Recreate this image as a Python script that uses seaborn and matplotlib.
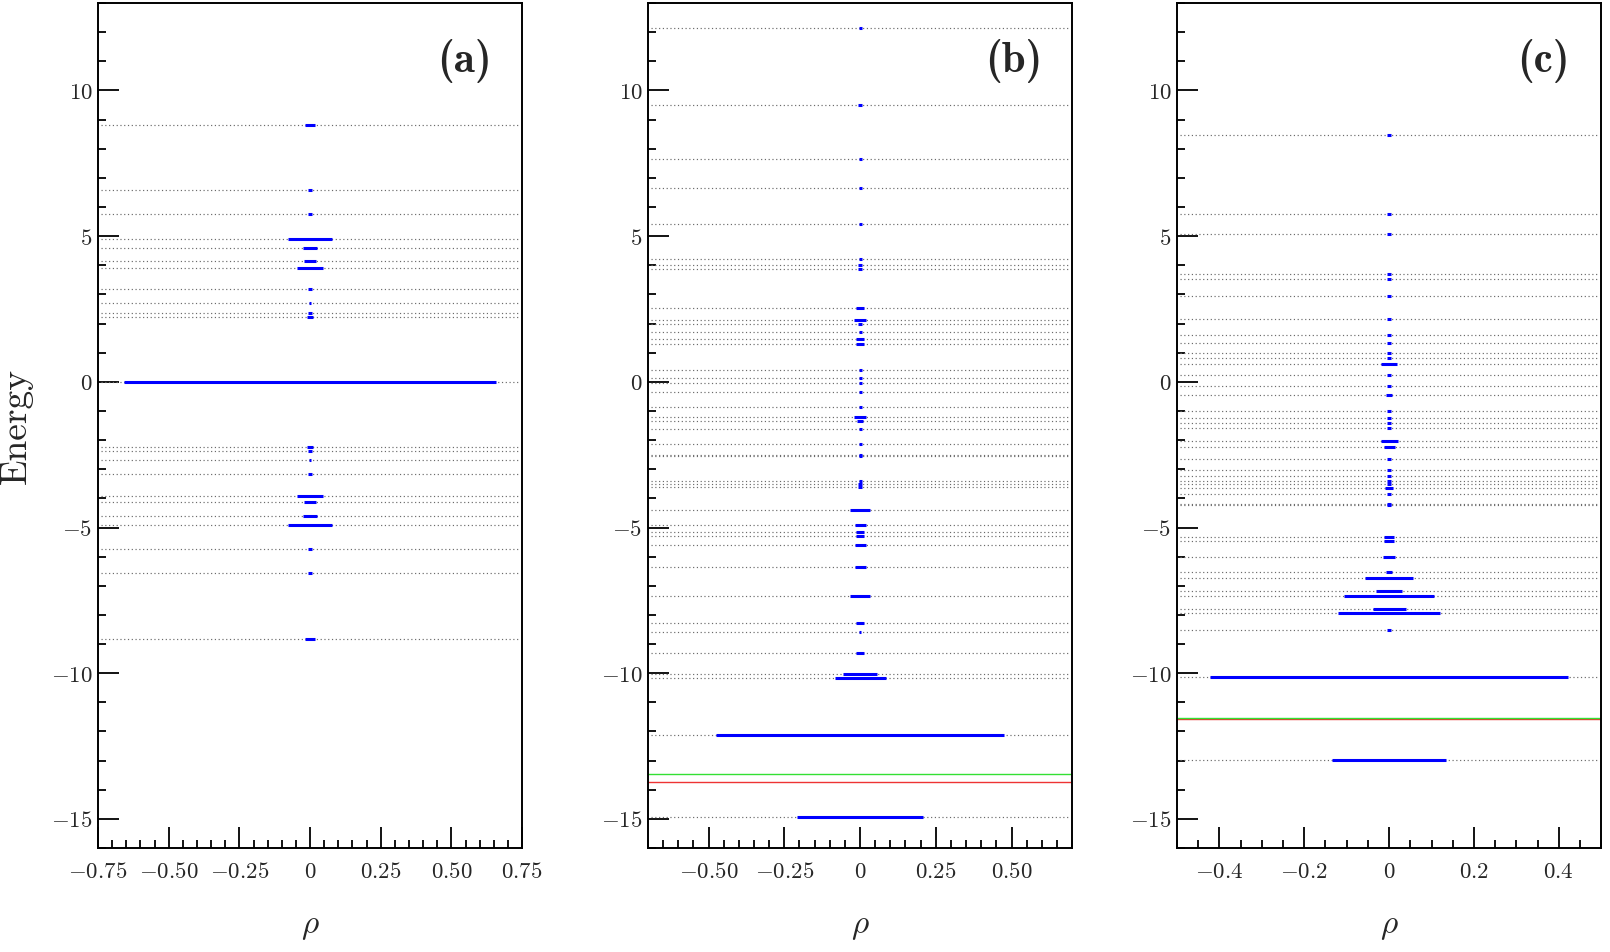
import os
import numpy as np
import matplotlib
matplotlib.use("Agg")
import matplotlib.pyplot as plt
import seaborn as sns
from matplotlib.ticker import MultipleLocator, FuncFormatter
from matplotlib.font_manager import FontProperties

# ---------------- data ----------------
# panel (a): energies and half-widths (rho)
energy_a = [8.82, 6.57, 5.75, 4.90, 4.59, 4.14, 3.92, 3.18, 2.69, 2.37, 2.23,
            0.0,
            -2.23, -2.37, -2.69, -3.18, -3.92, -4.14, -4.59, -4.90, -5.75, -6.57, -8.82]
rho_a = [0.018, 0.006, 0.006, 0.078, 0.026, 0.021, 0.045, 0.006, 0.004, 0.006, 0.010,
         0.657,
         0.010, 0.006, 0.004, 0.006, 0.045, 0.021, 0.026, 0.078, 0.006, 0.006, 0.018]

# panel (b)
energy_b = [12.16, 9.49, 7.66, 6.66, 5.40, 4.23, 4.01, 3.86,
            2.53, 2.12, 2.00, 1.71, 1.48, 1.30, 0.41, 0.14, -0.04, -0.34,
            -0.88, -1.21, -1.35, -1.62, -2.15, -2.51, -2.56, -3.41, -3.49, -3.62,
            -4.40, -4.91, -5.14, -5.30, -5.61, -6.37,
            -7.36, -8.26, -8.60, -9.32, -10.04, -10.15, -12.12, -14.93]
rho_b = [0.005, 0.007, 0.005, 0.005, 0.005, 0.005, 0.006, 0.006,
         0.012, 0.020, 0.008, 0.005, 0.013, 0.013, 0.005, 0.005, 0.005, 0.005,
         0.005, 0.020, 0.010, 0.005, 0.005, 0.005, 0.005, 0.005, 0.007, 0.007,
         0.034, 0.018, 0.014, 0.014, 0.018, 0.018,
         0.034, 0.012, 0.004, 0.012, 0.056, 0.084, 0.475, 0.207]
lines_b = {"green": -13.46, "red": -13.72}

# panel (c)
energy_c = [8.47, 5.77, 5.08, 3.70, 3.53, 2.96, 2.14, 1.61, 1.33, 0.98, 0.81, 0.60,
            0.23, -0.14, -0.44, -1.00, -1.25, -1.42, -1.57, -2.03, -2.23, -2.64,
            -3.01, -3.24, -3.41, -3.50, -3.64, -3.86, -4.18, -4.23,
            -5.31, -5.45, -6.01, -6.52, -6.74, -7.18, -7.35, -7.78, -7.92, -8.52,
            -10.12, -12.98]
rho_c = [0.004, 0.004, 0.004, 0.004, 0.004, 0.004, 0.004, 0.004, 0.004, 0.004, 0.004, 0.018,
         0.004, 0.004, 0.007, 0.004, 0.004, 0.004, 0.004, 0.020, 0.013, 0.004,
         0.004, 0.004, 0.004, 0.004, 0.009, 0.005, 0.004, 0.004,
         0.012, 0.012, 0.014, 0.007, 0.056, 0.031, 0.107, 0.039, 0.120, 0.004,
         0.423, 0.135]
lines_c = {"red": -11.56, "green": -11.54}

panel_labels = ["(a)", "(b)", "(c)"]
xlims = [0.75, 0.70, 0.50]
x_major = [0.25, 0.25, 0.2]
x_decimals = [2, 2, 1]

# ---------------- style ----------------
sns.set_theme(style="white")
plt.rcParams["font.family"] = ["DejaVu Serif"]
plt.rcParams["mathtext.fontset"] = "cm"

ttf_dir = os.path.join(matplotlib.get_data_path(), "fonts", "ttf")
fp_bold = FontProperties(fname=os.path.join(ttf_dir, "cmb10.ttf"), size=31)
fp_rom = FontProperties(fname=os.path.join(ttf_dir, "cmr10.ttf"), size=27)

fig = plt.figure(figsize=(16.1, 9.52), dpi=100)
positions = [[0.0609, 0.1092, 0.2634, 0.8876],
             [0.4025, 0.1092, 0.2634, 0.8876],
             [0.7311, 0.1092, 0.2634, 0.8876]]

datasets = [(energy_a, rho_a, {}), (energy_b, rho_b, lines_b), (energy_c, rho_c, lines_c)]
line_colors = {"green": "#33e033", "red": "#ee3333"}

def make_fmt(dec):
    def f(v, pos):
        if abs(v) < 1e-9:
            return r"$0$"
        return r"$%s$" % (("%." + str(dec) + "f") % v)
    return f

for i, (pos, (en, rh, extra)) in enumerate(zip(positions, datasets)):
    ax = fig.add_axes(pos)
    xl = xlims[i]
    ax.set_xlim(-xl, xl)
    ax.set_ylim(-16, 13)
    en = np.array(en)
    rh = np.array(rh)
    # dotted reference levels
    ax.hlines(en, -xl * 0.985, xl * 0.985, colors="#6a6a6a", linestyles=(0, (1, 2.2)),
              linewidth=0.85, zorder=1)
    for name, val in extra.items():
        ax.axhline(val, color=line_colors[name], lw=1.0, zorder=2)
    # blue segments
    ax.hlines(en, -rh, rh, colors="#0000ff", linewidth=2.2, zorder=3)

    ax.xaxis.set_major_locator(MultipleLocator(x_major[i]))
    ax.xaxis.set_minor_locator(MultipleLocator(0.05))
    ax.yaxis.set_major_locator(MultipleLocator(5))
    ax.yaxis.set_minor_locator(MultipleLocator(1))
    ax.xaxis.set_major_formatter(FuncFormatter(make_fmt(x_decimals[i])))
    ax.yaxis.set_major_formatter(FuncFormatter(lambda v, p: r"$%d$" % int(round(v))))
    ax.tick_params(which="both", direction="in", top=False, right=False,
                   bottom=True, left=True, width=1.3, color="black")
    ax.tick_params(which="major", length=15, labelsize=16.5, pad=9)
    ax.tick_params(axis="y", which="major", pad=4)
    ax.tick_params(which="minor", length=6)
    for sp in ax.spines.values():
        sp.set_linewidth(1.4)
        sp.set_color("black")
    ax.set_xlabel(r"$\rho$", fontsize=24, labelpad=20)
    if i == 0:
        ax.set_ylabel("Energy", fontproperties=fp_rom)
        ax.yaxis.set_label_coords(-0.193, 0.5)
        ax.yaxis.label.set_va("center")
    ax.text(0.863, 0.931, panel_labels[i], transform=ax.transAxes,
            fontproperties=fp_bold, ha="center", va="center")
    ax.grid(False)

fig.savefig("out.png", dpi=100)
